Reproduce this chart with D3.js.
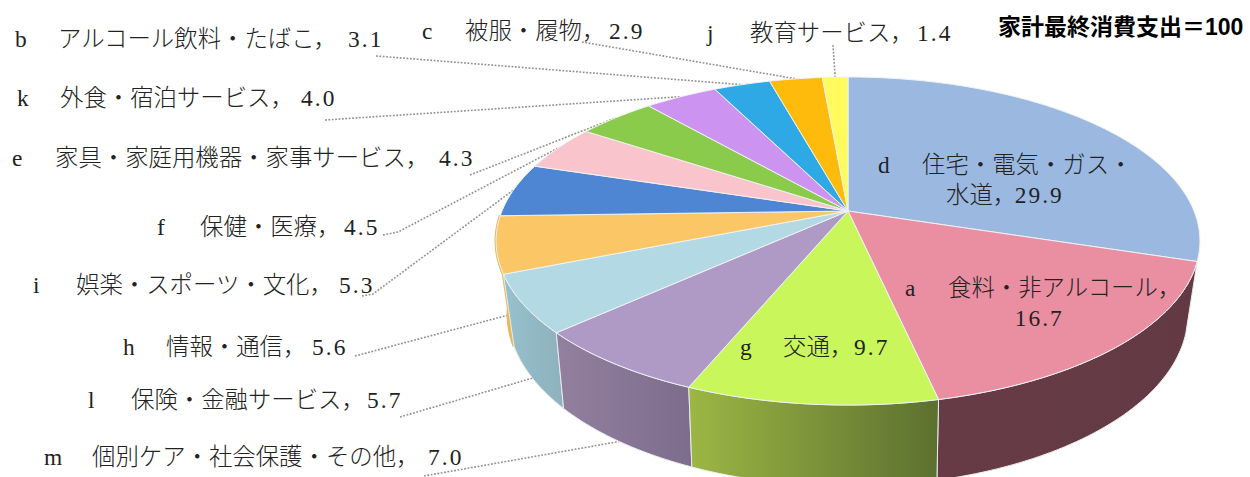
<!DOCTYPE html>
<html>
<head>
<meta charset="utf-8">
<script src="https://cdn.jsdelivr.net/npm/d3@7"></script>
<style>
html, body { margin: 0; padding: 0; background: #fff; }
svg { display: block; }
</style>
</head>
<body>
<svg width="1250" height="477"></svg>
<script>
// clockwise from 12 o'clock, same order as the slices in the picture
var codes = ["d", "a", "g", "m", "l", "h", "i", "f", "e", "k", "b", "c", "j"];
var names = ["住宅・電気・ガス・水道", "食料・非アルコール", "交通", "個別ケア・社会保護・その他", "保険・金融サービス",
    "情報・通信", "娯楽・スポーツ・文化", "保健・医療", "家具・家庭用機器・家事サービス", "外食・宿泊サービス",
    "アルコール飲料・たばこ", "被服・履物", "教育サービス"];
var values = [29.9, 16.7, 9.7, 7.0, 5.7, 5.6, 5.3, 4.5, 4.3, 4.0, 3.1, 2.9, 1.4];
var titleText = "家計最終消費支出＝100";

var topColors = ["#9bb9e0", "#ea8ea2", "#c8f65b", "#ae9ac4", "#b3d9e4", "#fbc766", "#4f86d3",
    "#f9c4cb", "#8acb4b", "#cc93f1", "#2fa9e5", "#febb0b", "#fffb5c"];
// wall shading, left and right stop, only for the slices that show a side
var wallColors = { a: ["#673b46", "#633a44"], g: ["#9cb744", "#5c702f"], m: ["#93809f", "#7e6c8d"],
    l: ["#97c0cd", "#8eb1bd"], h: ["#e3ae52", "#e3ae52"] };
var wallOrder = ["h", "l", "m", "a", "g"];

// label boxes: left, right, vertical centre
var labelPos = {
    b: [15, 382, 39], c: [422, 643, 31], j: [707, 951, 33], k: [17, 335, 98],
    e: [12, 473, 158], f: [157, 378, 227], i: [33, 373, 285], h: [123, 346, 347],
    l: [88, 401, 400], m: [44, 462, 457], g: [740, 888, 347]
};
// where the dotted leader leaves the label (one or two points)
var leaderStart = {
    b: [[376, 56]], c: [[582, 42]], j: [[833, 45]], k: [[325, 120]], e: [[470, 175]],
    f: [[383, 235], [398, 232]], i: [[362, 296], [373, 294]], h: [[355, 356]],
    l: [[400, 417]], m: [[424, 476]]
};

var svg = d3.select("svg");
var cx = 848;
// the two rims of the pie seen in perspective
var topRim = { a: 346, b: 158.5, k: 0.183, y0: 211 };
var lowRim = { a: 333, b: 165, k: 0.2, y0: 280 };

function project(angle, rim) {
    var u = Math.sin(angle), v = Math.cos(angle);
    var d = 1 + rim.k * v;
    return [cx + rim.a * u / d, rim.y0 - rim.b * v / d];
}

function arcPoints(a0, a1, rim) {
    var n = Math.max(2, Math.ceil(Math.abs(a1 - a0) / 0.02));
    return d3.range(n + 1).map(function(i) {
        return project(a0 + (a1 - a0) * i / n, rim);
    });
}

var line = d3.line();
var slices = d3.pie().sort(null).startAngle(0).endAngle(2 * Math.PI)(values);
slices.forEach(function(s, i) {
    s.code = codes[i];
    s.name = names[i];
    s.mid = (s.startAngle + s.endAngle) / 2;
});

// dotted leader lines go underneath the pie
var leaders = slices.filter(function(s) { return leaderStart[s.code]; });
svg.append("g").selectAll("path")
    .data(leaders)
    .enter().append("path")
    .attr("fill", "none")
    .attr("stroke", "#909090")
    .attr("stroke-width", 1.6)
    .attr("stroke-dasharray", "1.8 1.6")
    .attr("d", function(s) {
        var onFront = Math.cos(s.mid) < -0.15;
        return line(leaderStart[s.code].concat([project(s.mid, onFront ? lowRim : topRim)]));
    });

// side walls
var defs = svg.append("defs");
wallOrder.forEach(function(code) {
    var s = slices[codes.indexOf(code)];
    var grad = defs.append("linearGradient").attr("id", "wall-" + code);
    grad.append("stop").attr("offset", "0%").attr("stop-color", wallColors[code][0]);
    grad.append("stop").attr("offset", "100%").attr("stop-color", wallColors[code][1]);
    var pts = arcPoints(s.startAngle, s.endAngle, topRim)
        .concat(arcPoints(s.endAngle, s.startAngle, lowRim));
    svg.append("path")
        .attr("d", line(pts) + "Z")
        .attr("fill", "url(#wall-" + code + ")")
        // the orange sliver is a little fatter in the reference
        .attr("stroke", code == "h" ? "#e8b85c" : "#e8ecec")
        .attr("stroke-width", code == "h" ? 3 : 1);
});

// top face
svg.append("g").selectAll("path")
    .data(slices)
    .enter().append("path")
    .attr("fill", function(s, i) { return topColors[i]; })
    .attr("stroke", "#eef2f4")
    .attr("stroke-width", 1)
    .attr("stroke-linejoin", "round")
    .attr("d", function(s) {
        return line([[cx, topRim.y0]].concat(arcPoints(s.startAngle, s.endAngle, topRim))) + "Z";
    });

var serif = "'Liberation Serif', 'Noto Sans CJK JP', serif";
var fontSize = 23.4;

function baseText(x, yc) {
    return svg.append("text")
        .attr("x", x)
        .attr("y", yc + 8)
        .attr("font-family", serif)
        .attr("font-size", fontSize)
        .attr("font-weight", 300)
        .attr("fill", "#222");
}

// a value is drawn wider than the plain font, like half width cells
function valueTspan(t, v, x1) {
    var str = d3.format(".1f")(v);
    t.append("tspan")
        .attr("x", x1 - str.length * 11.3)
        .attr("letter-spacing", 2)
        .text(str);
}

slices.forEach(function(s) {
    var p = labelPos[s.code];
    if (!p) return;
    var t = baseText(p[0], p[2]);
    t.append("tspan").text(s.code);
    // m is a wide letter, the name starts a bit later
    t.append("tspan").attr("x", p[0] + (s.code == "m" ? 48 : 43)).text(s.name + "，");
    valueTspan(t, s.data, p[1]);
});

// labels on the two big slices are broken on two lines
var sD = slices[0], sA = slices[1];
var tD = baseText(878, 165);
tD.append("tspan").text(sD.code);
tD.append("tspan").attr("x", 922).text(sD.name.slice(0, 9));
var tD2 = baseText(946, 195);
tD2.text(sD.name.slice(9) + "，");
valueTspan(tD2, sD.data, 1060);

var tA = baseText(905, 288);
tA.append("tspan").text(sA.code);
tA.append("tspan").attr("x", 948).text(sA.name + "，");
valueTspan(baseText(0, 318), sA.data, 1060);

svg.append("text")
    .attr("x", 998)
    .attr("y", 35)
    .attr("font-family", "'Liberation Sans', 'Noto Sans CJK JP', sans-serif")
    .attr("font-weight", 700)
    .attr("font-size", 23)
    .attr("fill", "#000")
    .text(titleText);
</script>
</body>
</html>
